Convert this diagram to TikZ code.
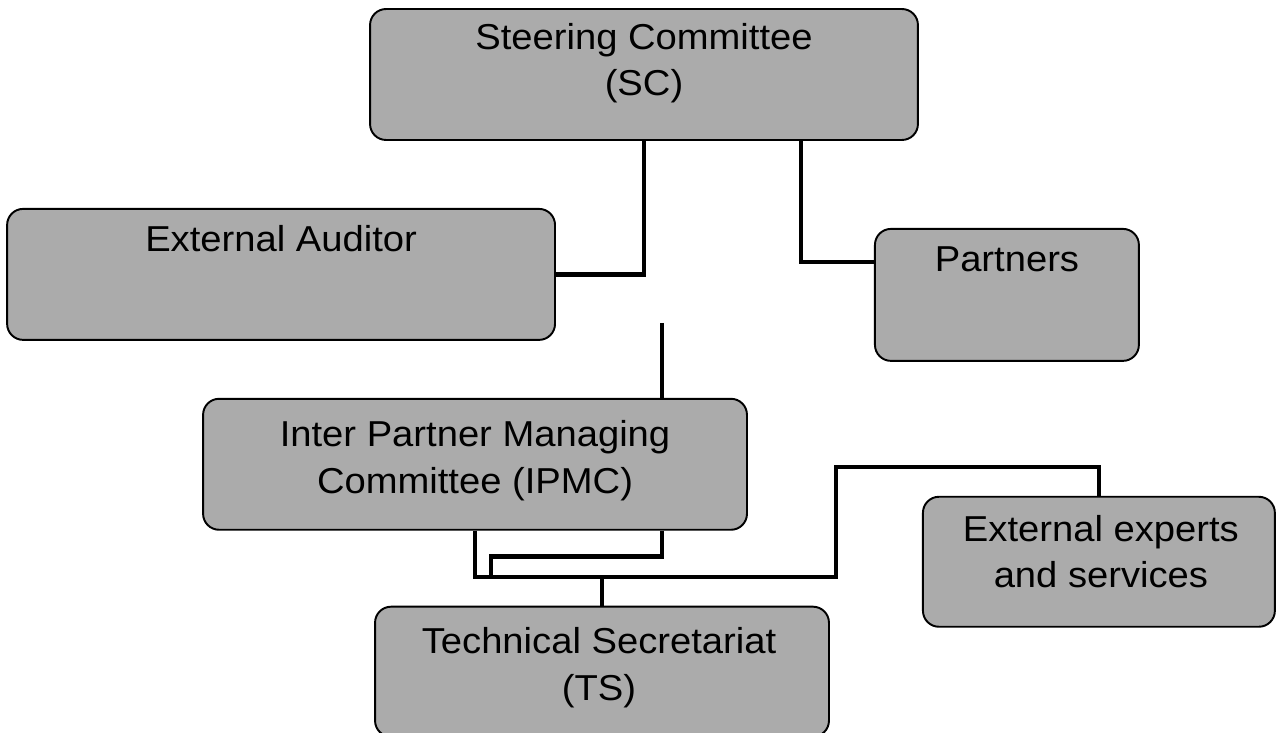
\documentclass[tikz,border=0pt]{standalone}
\usepackage{fontspec}
\setmainfont{Liberation Sans}[FakeStretch=1.06]
\usepackage{tikz}
\usetikzlibrary{positioning, calc}
\tikzset{
    orgbox/.style={
        rectangle,
        rounded corners=0.32cm,
        draw=black,
        line width=1.1pt,
        fill=black!33,
        inner sep=0pt
    },
    boxtext/.style={
        align=center,
        inner sep=0pt,
        font=\fontsize{20.5}{26.5}\selectfont
    },
    link/.style={
        draw=black,
        line width=2.7pt
    }
}
\begin{document}
\begin{tikzpicture}[x=0.02cm, y=-0.02cm]

\useasboundingbox (0,0) rectangle (1276,733);

% Steering committee on top
\node[orgbox, minimum width=10.96cm, minimum height=2.62cm] (sc) at (644,74.5) {};
\node[boxtext] (sc-txt) at ([yshift=0.23cm]sc.center) {Steering Committee\\(SC)};

% Auditor and partners
\node[orgbox, minimum width=10.96cm, minimum height=2.62cm, below=1.34cm of sc, xshift=-7.26cm] (auditor) {};
\node[boxtext] (auditor-txt) at ([yshift=0.71cm]auditor.center) {External Auditor};

\node[orgbox, minimum width=5.28cm, minimum height=2.64cm, below=1.74cm of sc, xshift=7.26cm] (partners) {};
\node[boxtext] (partners-txt) at ([yshift=0.72cm]partners.center) {Partners};

% Managing committee
\node[orgbox, minimum width=10.88cm, minimum height=2.62cm, below=1.14cm of auditor, xshift=3.88cm] (ipmc) {};
\node[boxtext] (ipmc-txt) at ([yshift=0.07cm]ipmc.center) {Inter Partner Managing\\Committee (IPMC)};

% Secretariat and experts
\node[orgbox, minimum width=9.08cm, minimum height=2.6cm, below=1.5cm of ipmc, xshift=2.54cm] (ts) {};
\node[boxtext] (ts-txt) at ([yshift=0.08cm, xshift=-0.06cm]ts.center) {Technical Secretariat\\(TS)};

\node[orgbox, minimum width=7.04cm, minimum height=2.6cm, below=2.68cm of partners, xshift=1.84cm] (experts) {};
\node[boxtext] (experts-txt) at ([yshift=0.2cm, xshift=0.04cm]experts.center) {External experts\\and services};

% SC links
\draw[link] (sc.south) |- (auditor.east);
\draw[link] ([xshift=3.14cm]sc.south) |- ([yshift=-0.68cm]partners.north west);

% loose stub above IPMC
\coordinate (stub) at (662,323);
\draw[link] (stub) -- (stub |- ipmc.north);

% IPMC - TS - experts
\coordinate (bus) at (836,577);
\coordinate (jog) at ($(ipmc.south)+(16,0)$);
\draw[link] (ipmc.south) |- (bus) -- ++(0,-110) -| (experts.north);
\draw[link] ($(ipmc.south)+(187,0)$) -- ++(0,26) -| (jog |- bus);
\draw[link] (ts.north) -- (ts.north |- bus);

\end{tikzpicture}
\end{document}
